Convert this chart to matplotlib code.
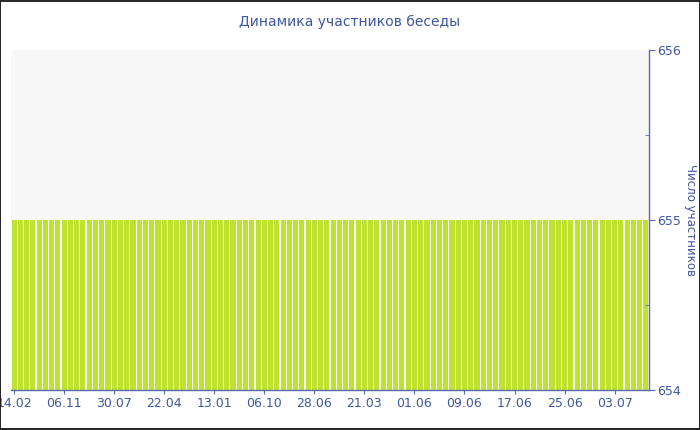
import matplotlib
matplotlib.use("Agg")
import matplotlib.pyplot as plt
from matplotlib.patches import Rectangle
from matplotlib.ticker import MultipleLocator

title = "Динамика участников беседы"
ylabel = "Число участников"
tick_labels = ["14.02", "06.11", "30.07", "22.04", "13.01", "06.10", "28.06",
               "21.03", "01.06", "09.06", "17.06", "25.06", "03.07"]
tick_step = 8
members = [
    655, 655, 655, 655, 655, 655, 655, 655, 655, 655,
    655, 655, 655, 655, 655, 655, 655, 655, 655, 655,
    655, 655, 655, 655, 655, 655, 655, 655, 655, 655,
    655, 655, 655, 655, 655, 655, 655, 655, 655, 655,
    655, 655, 655, 655, 655, 655, 655, 655, 655, 655,
    655, 655, 655, 655, 655, 655, 655, 655, 655, 655,
    655, 655, 655, 655, 655, 655, 655, 655, 655, 655,
    655, 655, 655, 655, 655, 655, 655, 655, 655, 655,
    655, 655, 655, 655, 655, 655, 655, 655, 655, 655,
    655, 655, 655, 655, 655, 655, 655, 655, 655, 655,
    655, 655,
]

text_color = "#3f56a0"
spine_color = "#5a6aa8"
bar_color = "#bfe22e"

fig = plt.figure(figsize=(7, 4.3), dpi=100)
ax = fig.add_axes([11 / 700, 40 / 430, 638 / 700, 340 / 430])
ax.set_facecolor("#f7f7f7")

x = list(range(len(members)))
ax.bar(x, members, width=0.82, color=bar_color, linewidth=0)
ax.set_xlim(-0.5, len(members) - 0.5)
ax.set_ylim(654, 656)

ax.set_xticks(x[::tick_step])
ax.set_xticklabels(tick_labels)
ax.yaxis.tick_right()
ax.set_yticks([654, 655, 656])
ax.yaxis.set_minor_locator(MultipleLocator(0.5))
ax.tick_params(axis="y", which="major", direction="out", length=4,
               color=spine_color, labelcolor=text_color, labelsize=9, pad=2)
ax.tick_params(axis="y", which="minor", direction="in", length=3,
               color=spine_color)
ax.tick_params(axis="x", direction="out", length=3, color=spine_color,
               labelcolor=text_color, labelsize=9, pad=2)

for s in ["left", "top"]:
    ax.spines[s].set_visible(False)
for s in ["right", "bottom"]:
    ax.spines[s].set_color(spine_color)
    ax.spines[s].set_linewidth(1)

ax.text((690 - 11) / 638, 0.5, ylabel, transform=ax.transAxes, rotation=270,
        ha="center", va="center", color=text_color, fontsize=8.5)
fig.text(0.5, 1 - 22 / 430, title, ha="center", va="center",
         color=text_color, fontsize=10)

fig.add_artist(Rectangle((0.0007, 0.0012), 0.9986, 0.9976, transform=fig.transFigure,
                         fill=False, edgecolor="black", linewidth=1.2))

fig.savefig("out.png", dpi=100)
